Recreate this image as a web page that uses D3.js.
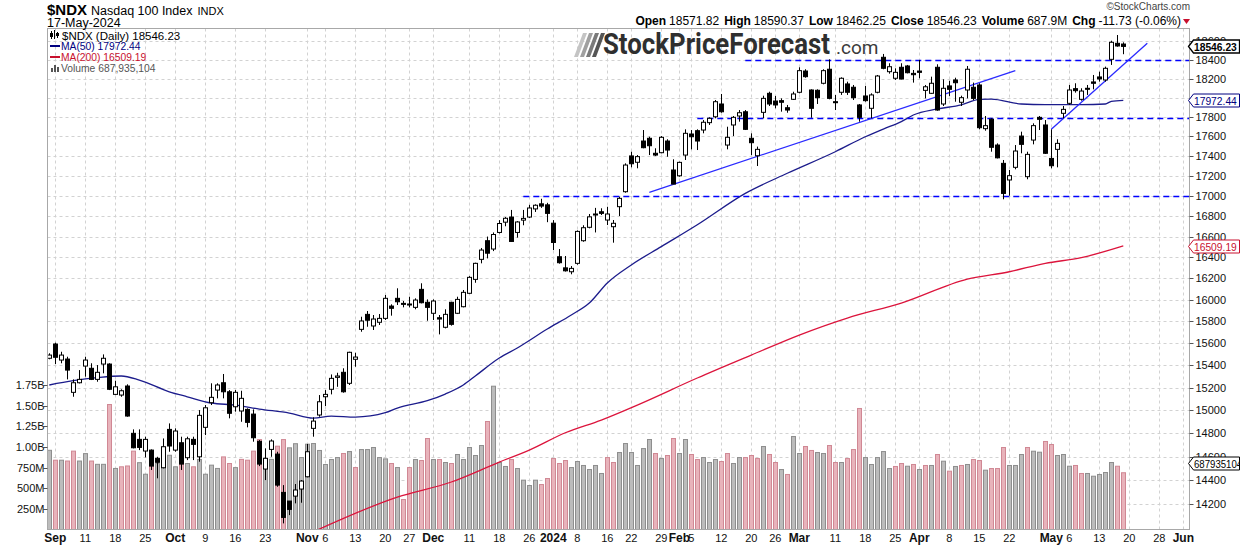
<!DOCTYPE html>
<html>
<head>
<meta charset="utf-8">
<script src="https://cdn.jsdelivr.net/npm/d3@7"></script>
<style>
body { margin: 0; background: #fff; }
svg { display: block; font-family: "Liberation Sans", Arial, sans-serif; }
</style>
</head>
<body>
<svg id="chart" width="1240" height="546"></svg>
<script>
// trading days on the axis (last ones are empty future days)
var dates = [
"2023-08-31","2023-09-01","2023-09-05","2023-09-06","2023-09-07","2023-09-08",
"2023-09-11","2023-09-12","2023-09-13","2023-09-14","2023-09-15",
"2023-09-18","2023-09-19","2023-09-20","2023-09-21","2023-09-22",
"2023-09-25","2023-09-26","2023-09-27","2023-09-28","2023-09-29",
"2023-10-02","2023-10-03","2023-10-04","2023-10-05","2023-10-06",
"2023-10-09","2023-10-10","2023-10-11","2023-10-12","2023-10-13",
"2023-10-16","2023-10-17","2023-10-18","2023-10-19","2023-10-20",
"2023-10-23","2023-10-24","2023-10-25","2023-10-26","2023-10-27",
"2023-10-30","2023-10-31","2023-11-01","2023-11-02","2023-11-03",
"2023-11-06","2023-11-07","2023-11-08","2023-11-09","2023-11-10",
"2023-11-13","2023-11-14","2023-11-15","2023-11-16","2023-11-17",
"2023-11-20","2023-11-21","2023-11-22","2023-11-24",
"2023-11-27","2023-11-28","2023-11-29","2023-11-30","2023-12-01",
"2023-12-04","2023-12-05","2023-12-06","2023-12-07","2023-12-08",
"2023-12-11","2023-12-12","2023-12-13","2023-12-14","2023-12-15",
"2023-12-18","2023-12-19","2023-12-20","2023-12-21","2023-12-22",
"2023-12-26","2023-12-27","2023-12-28","2023-12-29",
"2024-01-02","2024-01-03","2024-01-04","2024-01-05",
"2024-01-08","2024-01-09","2024-01-10","2024-01-11","2024-01-12",
"2024-01-16","2024-01-17","2024-01-18","2024-01-19",
"2024-01-22","2024-01-23","2024-01-24","2024-01-25","2024-01-26",
"2024-01-29","2024-01-30","2024-01-31","2024-02-01","2024-02-02",
"2024-02-05","2024-02-06","2024-02-07","2024-02-08","2024-02-09",
"2024-02-12","2024-02-13","2024-02-14","2024-02-15","2024-02-16",
"2024-02-20","2024-02-21","2024-02-22","2024-02-23",
"2024-02-26","2024-02-27","2024-02-28","2024-02-29","2024-03-01",
"2024-03-04","2024-03-05","2024-03-06","2024-03-07","2024-03-08",
"2024-03-11","2024-03-12","2024-03-13","2024-03-14","2024-03-15",
"2024-03-18","2024-03-19","2024-03-20","2024-03-21","2024-03-22",
"2024-03-25","2024-03-26","2024-03-27","2024-03-28",
"2024-04-01","2024-04-02","2024-04-03","2024-04-04","2024-04-05",
"2024-04-08","2024-04-09","2024-04-10","2024-04-11","2024-04-12",
"2024-04-15","2024-04-16","2024-04-17","2024-04-18","2024-04-19",
"2024-04-22","2024-04-23","2024-04-24","2024-04-25","2024-04-26",
"2024-04-29","2024-04-30","2024-05-01","2024-05-02","2024-05-03",
"2024-05-06","2024-05-07","2024-05-08","2024-05-09","2024-05-10",
"2024-05-13","2024-05-14","2024-05-15","2024-05-16","2024-05-17",
"2024-05-20","2024-05-21","2024-05-22","2024-05-23","2024-05-24",
"2024-05-28","2024-05-29","2024-05-30","2024-05-31",
"2024-06-03","2024-06-04"];

var opens = [15463,15592,15447,15456,15159,15244,15393,15373,15274,15411,15411,15141,15135,15215,14801,14749,14649,14657,14587,14507,
14835,14657,14720,14592,14749,14600,14853,15068,15179,15244,15164,15032,14995,15009,14968,14732,14496,14663,14623,14300,
14228,14269,14328,14431,14844,14960,15120,15186,15292,15337,15239,15454,15726,15864,15757,15791,15827,15941,16013,15966,
15960,15929,16097,15976,15874,15833,15745,15976,15874,15935,16060,16191,16381,16560,16480,16640,16740,16790,16640,16760,
16790,16870,16920,16910,16730,16406,16300,16263,16343,16560,16690,16820,16842,16761,16696,16892,17040,17399,17335,17551,
17579,17426,17432,17551,17257,17199,17408,17623,17657,17664,17740,17801,17934,17510,17716,17809,17853,17579,17401,17847,
18046,17965,17969,17895,17983,18057,18282,18081,18078,18152,18301,17958,18057,18145,18110,17924,18018,17889,18057,18429,
18275,18205,18322,18336,18257,18282,18077,18046,18322,17934,18124,18187,17952,18081,18110,18134,17678,17775,17510,17324,
17157,17284,17602,17190,17561,17795,17716,17374,17466,17837,17941,18095,17983,18099,18166,18219,18187,18407,18580,18571.82];
var highs = [15508,15604,15522,15477,15274,15357,15477,15418,15402,15498,15418,15262,15186,15230,14835,14835,14772,14663,14600,14757,
14887,14844,14772,14772,14772,15003,15047,15239,15239,15322,15179,15179,15173,15018,15009,14743,14672,14749,14643,14361,
14228,14370,14403,14709,14940,15135,15179,15318,15333,15373,15522,15513,15842,15895,15858,15867,16044,15957,16107,15988,
16028,16013,16154,16003,16003,15858,15911,15981,16028,16091,16222,16349,16490,16600,16640,16760,16790,16860,16750,16860,
16910,16915,16970,16930,16760,16480,16413,16317,16660,16710,16820,16880,16876,16891,16761,16990,17324,17442,17408,17664,
17595,17477,17602,17569,17365,17341,17671,17664,17671,17767,17795,17976,18039,17698,17809,17871,17871,17630,17494,18021,
18063,18018,17993,17924,18063,18322,18301,18088,18088,18301,18407,18029,18215,18169,18134,17934,18124,18046,18240,18465,
18365,18311,18365,18347,18293,18400,18134,18222,18354,18194,18179,18211,18021,18336,18159,18152,17809,17785,17527,17358,
17257,17510,17647,17442,17733,17809,17767,17671,17569,17913,18134,18152,18099,18134,18240,18275,18329,18608,18670,18590.37];
var lows = [15454,15411,15418,15274,15120,15238,15298,15268,15253,15328,15179,15135,15120,14945,14672,14657,14595,14488,14418,14502,
14643,14643,14488,14572,14572,14558,14786,15047,15106,15106,14931,14989,14901,14853,14729,14521,14403,14600,14347,14044,
14112,14209,14214,14426,14772,14945,15038,15141,15208,15156,15224,15387,15704,15750,15720,15766,15812,15852,15951,15929,
15929,15911,15966,15805,15812,15680,15735,15760,15867,15929,16053,16159,16343,16390,16460,16630,16700,16550,16590,16710,
16780,16840,16880,16740,16470,16340,16265,16239,16330,16550,16680,16640,16810,16712,16541,16800,17030,17284,17274,17477,
17408,17398,17426,17391,17116,17190,17358,17466,17459,17630,17716,17785,17843,17466,17602,17750,17664,17408,17297,17785,
17913,17889,17854,17843,17976,18046,18211,17791,17934,18141,17983,17871,18029,18029,17976,17750,17958,17785,18046,18301,
18254,18187,18194,18257,18159,18205,17993,18039,17864,17913,18018,17958,17913,17993,17976,17671,17657,17442,17374,16965,
17000,17264,17426,17164,17517,17664,17419,17274,17284,17785,17924,18053,17969,18029,18088,18169,18169,18347,18543,18462.25];
var closes = [15492,15472,15492,15357,15244,15274,15447,15274,15337,15463,15186,15208,15173,14951,14677,14680,14749,14521,14553,14686,
14692,14821,14538,14754,14706,14957,15023,15115,15224,15164,14975,15159,15106,14896,14763,14538,14587,14735,14361,14093,
14159,14320,14395,14643,14907,15076,15141,15283,15304,15164,15517,15474,15803,15810,15821,15827,16013,15920,15981,15960,
15951,15997,15972,15929,15988,15821,15864,15772,16003,16069,16210,16343,16470,16440,16620,16727,16778,16553,16742,16777,
16879,16906,16898,16826,16543,16349,16272,16295,16650,16686,16792,16810,16826,16820,16729,16974,17307,17320,17392,17483,
17503,17408,17589,17459,17116,17334,17630,17595,17551,17744,17785,17958,17853,17589,17795,17843,17671,17534,17466,17993,
17934,17924,17952,17871,18039,18286,18222,17889,18000,18286,17993,17952,18205,18057,18000,17795,17969,18029,18229,18311,
18328,18268,18197,18264,18243,18268,18115,18152,17871,18099,18088,18158,18000,18301,17993,17688,17709,17487,17380,17023,
17200,17449,17517,17415,17709,17775,17426,17300,17527,17878,18081,18074,18070,18092,18152,18198,18311,18591,18551,18546.23];
// volume in millions of shares
var volumes = [960,840,840,830,950,830,920,830,790,790,1515,740,760,770,950,810,670,880,800,850,
900,760,1010,800,760,850,670,780,740,880,800,750,850,840,950,1090,850,850,1010,1090,
990,1040,872,1034,1042,958,788,848,872,921,945,751,969,969,994,872,856,800,751,363,
751,848,836,1103,848,848,812,800,909,848,994,897,1018,1309,1737,812,764,848,739,598,
533,598,545,618,860,800,836,751,824,776,727,776,679,872,812,933,1042,933,776,981,
1091,921,860,897,1103,921,1091,909,848,872,812,848,824,921,800,872,872,897,860,1006,
909,812,727,667,1127,921,1006,958,933,921,1018,812,812,860,969,1467,872,788,872,945,
739,764,800,767,788,727,776,776,909,828,707,764,776,788,848,836,719,739,739,994,
776,776,909,994,949,937,1067,1030,897,909,767,776,679,679,646,667,691,812,767,688];

var ma50Dates = ["2023-08-31","2023-09-07","2023-09-13","2023-09-19","2023-09-22","2023-09-29","2023-10-04","2023-10-10",
"2023-10-16","2023-10-20","2023-10-27","2023-11-02","2023-11-07","2023-11-13","2023-11-20","2023-11-22","2023-11-30",
"2023-12-05","2023-12-08","2023-12-12","2023-12-18","2023-12-21","2023-12-29","2024-01-05","2024-01-10","2024-01-16",
"2024-01-22","2024-01-29","2024-02-06","2024-02-16","2024-02-28","2024-03-11","2024-03-18","2024-03-21","2024-03-26",
"2024-03-28","2024-04-04","2024-04-10","2024-04-15","2024-04-17","2024-04-24","2024-04-30","2024-05-08","2024-05-14",
"2024-05-15","2024-05-17"];
var ma50Values = [15224,15262,15289,15304,15268,15164,15120,15065,15047,15012,14977,14933,14951,14942,14980,15021,15085,
15144,15224,15304,15465,15556,15729,15858,15969,16157,16328,16503,16715,17024,17224,17442,17595,17674,17750,
17819,17882,17924,17983,17986,17934,17927,17927,17934,17962,17972.44];

var ma200Dates = ["2023-11-02","2023-11-22","2023-12-06","2023-12-18","2023-12-26","2024-01-04","2024-01-12","2024-01-23",
"2024-02-06","2024-02-20","2024-03-01","2024-03-13","2024-03-26","2024-04-11","2024-04-22","2024-04-30","2024-05-08","2024-05-17"];
var ma200Values = [13975,14261,14387,14555,14657,14806,14916,15047,15286,15492,15674,15830,15969,16194,16263,16343,16397,16509.19];

// hand-drawn annotations: [start date, price] -> [end date, price]
var trendLines = [
  [["2024-01-25", 17034], ["2024-04-23", 18286]],
  [["2024-05-01", 17671], ["2024-05-23", 18580]]
];
var levelDates = ["2024-02-16", "2024-02-06", "2023-12-22"];
var levelValues = [18400, 17785, 17000];

var priceDomain = [13994, 18741];
var volumeDomain = [0, 6073];
var priceTicks = [14200,14400,14600,14800,15000,15200,15400,15600,15800,16000,16200,16400,16600,16800,17000,
17200,17400,17600,17800,18000,18200,18400,18600];
var volumeTicks = [250, 500, 750, 1000, 1250, 1500, 1750];
var volumeTickLabels = ["250M", "500M", "750M", "1.00B", "1.25B", "1.50B", "1.75B"];

var dateTicks = ["2023-09-01","2023-09-11","2023-09-18","2023-09-25","2023-10-02","2023-10-09","2023-10-16","2023-10-23",
"2023-11-01","2023-11-06","2023-11-13","2023-11-20","2023-11-27","2023-12-01","2023-12-11","2023-12-18","2023-12-26",
"2024-01-02","2024-01-08","2024-01-16","2024-01-22","2024-01-29","2024-02-01","2024-02-05","2024-02-12","2024-02-20",
"2024-02-26","2024-03-01","2024-03-11","2024-03-18","2024-03-25","2024-04-01","2024-04-08","2024-04-15","2024-04-22",
"2024-05-01","2024-05-06","2024-05-13","2024-05-20","2024-05-28","2024-06-03"];
var dateTickLabels = ["Sep","11","18","25","Oct","9","16","23","Nov","6","13","20","27","Dec","11","18","26",
"2024","8","16","22","29","Feb","5","12","20","26","Mar","11","18","25","Apr","8","15","22",
"May","6","13","20","28","Jun"];

var lastVolumeText = "687935104";

// ---------------------------------------------------------------
var svg = d3.select('#chart');
var plot = {left: 47.5, right: 1189.5, top: 28.5, bottom: 529.5};

var x = d3.scalePoint().domain(dates).range([49.3, 1189.3]);
var y = d3.scaleLog().domain(priceDomain).range([plot.bottom, plot.top]);
var yVol = d3.scaleLinear().domain(volumeDomain).range([plot.bottom, plot.top]);

var candles = opens.map(function(o, i) {
	return {date: dates[i], o: o, h: highs[i], l: lows[i], c: closes[i], v: volumes[i],
		down: i > 0 && closes[i] < closes[i-1]};
});
var last = candles[candles.length-1];
var px = function(d) { return Math.round(x(d)) + 0.5; };
var py = function(v) { return Math.round(y(v)) + 0.5; };

svg.append('rect').attr('width', 1240).attr('height', 546).attr('fill', '#ffffff');

svg.append('defs').append('clipPath').attr('id', 'clip').append('rect')
	.attr('x', plot.left).attr('y', plot.top)
	.attr('width', plot.right - plot.left).attr('height', plot.bottom - plot.top);

// grid
var grid = svg.append('g').attr('stroke', '#d2d2d2').attr('stroke-dasharray', '3,3').attr('stroke-width', 1);
grid.selectAll('line.h').data(priceTicks).enter().append('line')
	.attr('x1', plot.left).attr('x2', plot.right)
	.attr('y1', py).attr('y2', py);
grid.selectAll('line.v').data(dateTicks).enter().append('line')
	.attr('y1', plot.top).attr('y2', plot.bottom)
	.attr('x1', px).attr('x2', px);

// watermark logo
var logo = svg.append('g');
['#c4c4c4', '#a0a0a0', '#7a7a7a', '#555555'].forEach(function(c, k) {
	logo.append('path')
		.attr('d', 'M' + (574 + k*6) + ',57 L' + (583 + k*6) + ',33 L' + (587 + k*6) + ',33 L' + (578 + k*6) + ',57 Z')
		.attr('fill', c);
});
logo.append('text').attr('x', 603).attr('y', 54)
	.attr('font-family', 'Roboto, "Open Sans", sans-serif').attr('font-weight', 'bold')
	.attr('font-size', 29).attr('fill', '#2f2f2f')
	.attr('textLength', 227).attr('lengthAdjust', 'spacingAndGlyphs')
	.text('StockPriceForecast');
logo.append('text').attr('x', 836).attr('y', 54)
	.attr('font-family', 'Roboto, "Open Sans", sans-serif')
	.attr('font-size', 19).attr('fill', '#3a3a3a')
	.text('.com');

var inner = svg.append('g').attr('clip-path', 'url(#clip)');

// volume bars
inner.selectAll('rect.vol').data(candles).enter().append('rect')
	.attr('class', 'vol')
	.attr('x', function(d) { return Math.round(x(d.date)) - 1.5; })
	.attr('width', 4)
	.attr('y', function(d) { return yVol(d.v); })
	.attr('height', function(d) { return yVol(0) - yVol(d.v); })
	.attr('fill', function(d) { return d.down ? '#e8b3bb' : '#bcbcbc'; })
	.attr('stroke', function(d) { return d.down ? '#d08894' : '#8e8e8e'; })
	.attr('stroke-width', 1);

// moving averages
var maLine = d3.line()
	.x(function(d) { return x(d[0]); })
	.y(function(d) { return y(d[1]); })
	.curve(d3.curveMonotoneX);
inner.append('path').datum(d3.zip(ma200Dates, ma200Values))
	.attr('d', maLine).attr('fill', 'none').attr('stroke', '#dc143c').attr('stroke-width', 1.3);
inner.append('path').datum(d3.zip(ma50Dates, ma50Values))
	.attr('d', maLine).attr('fill', 'none').attr('stroke', '#1c1c8c').attr('stroke-width', 1.3);

// horizontal levels and trend lines
inner.selectAll('line.level').data(d3.zip(levelDates, levelValues)).enter().append('line')
	.attr('class', 'level')
	.attr('x1', function(d) { return x(d[0]); })
	.attr('x2', plot.right + 4)
	.attr('y1', function(d) { return py(d[1]); })
	.attr('y2', function(d) { return py(d[1]); })
	.attr('stroke', '#0000ff').attr('stroke-width', 1.3).attr('stroke-dasharray', '6,4');
inner.selectAll('line.trend').data(trendLines).enter().append('line')
	.attr('class', 'trend')
	.attr('x1', function(d) { return x(d[0][0]); })
	.attr('y1', function(d) { return y(d[0][1]); })
	.attr('x2', function(d) { return x(d[1][0]); })
	.attr('y2', function(d) { return y(d[1][1]); })
	.attr('stroke', '#2a2aff').attr('stroke-width', 1.3);

// candles
var cg = inner.selectAll('g.candle').data(candles).enter().append('g').attr('class', 'candle');
cg.append('line')
	.attr('x1', function(d) { return px(d.date); }).attr('x2', function(d) { return px(d.date); })
	.attr('y1', function(d) { return y(d.h); }).attr('y2', function(d) { return y(d.l); })
	.attr('stroke', '#000').attr('stroke-width', 1);
cg.append('rect')
	.attr('x', function(d) { return px(d.date) - 2; })
	.attr('width', 4)
	.attr('y', function(d) { return Math.min(y(d.o), y(d.c)); })
	.attr('height', function(d) { return Math.max(1, Math.abs(y(d.o) - y(d.c))); })
	.attr('fill', function(d) { return d.c < d.o ? '#000' : '#fff'; })
	.attr('stroke', '#000').attr('stroke-width', 1);

// frame
svg.append('rect').attr('x', plot.left).attr('y', plot.top)
	.attr('width', plot.right - plot.left).attr('height', plot.bottom - plot.top)
	.attr('fill', 'none').attr('stroke', '#a8a8a8').attr('stroke-width', 1);

// right price axis
var ra = svg.append('g').attr('font-size', 11).attr('fill', '#111');
ra.selectAll('line').data(priceTicks).enter().append('line')
	.attr('x1', plot.right).attr('x2', plot.right + 4)
	.attr('y1', py).attr('y2', py)
	.attr('stroke', '#555');
ra.selectAll('text').data(priceTicks).enter().append('text')
	.attr('x', plot.right + 6).attr('y', function(d) { return y(d) + 4; })
	.text(function(d) { return d; });

// left volume axis
var la = svg.append('g').attr('font-size', 11).attr('fill', '#111');
la.selectAll('line').data(volumeTicks).enter().append('line')
	.attr('x1', plot.left - 4).attr('x2', plot.left)
	.attr('y1', function(d) { return Math.round(yVol(d)) + 0.5; })
	.attr('y2', function(d) { return Math.round(yVol(d)) + 0.5; })
	.attr('stroke', '#555');
la.selectAll('text').data(volumeTicks).enter().append('text')
	.attr('x', plot.left - 3).attr('y', function(d) { return yVol(d) + 4; })
	.attr('text-anchor', 'end')
	.text(function(d, i) { return volumeTickLabels[i]; });

// bottom date axis
var isMonth = function(s) { return /^[A-Z]/.test(s) || s.length === 4; };
svg.append('g').selectAll('text').data(dateTicks).enter().append('text')
	.attr('x', function(d) { return x(d); })
	.attr('y', 542)
	.attr('text-anchor', 'middle')
	.attr('font-size', function(d, i) { return isMonth(dateTickLabels[i]) ? 12 : 11; })
	.attr('font-weight', function(d, i) { return isMonth(dateTickLabels[i]) ? 'bold' : 'normal'; })
	.attr('fill', '#111')
	.text(function(d, i) { return dateTickLabels[i]; });

// value tags at right edge
function tag(cy, label, color, bold) {
	var g = svg.append('g');
	var t = plot.right - 1;
	g.append('path')
		.attr('d', 'M' + t + ',' + cy + ' L' + (t + 5) + ',' + (cy - 6.5) + ' L1239.5,' + (cy - 6.5) +
			' L1239.5,' + (cy + 6.5) + ' L' + (t + 5) + ',' + (cy + 6.5) + ' Z')
		.attr('fill', '#fff').attr('stroke', color).attr('stroke-width', bold ? 1.3 : 1);
	g.append('text').attr('x', t + 5.5).attr('y', cy + 4)
		.attr('font-size', 11).attr('font-weight', bold ? 'bold' : 'normal')
		.attr('textLength', label.length * 5.35).attr('lengthAdjust', 'spacingAndGlyphs')
		.attr('fill', color).text(label);
}
tag(py(last.c), last.c.toFixed(2), '#000', true);
tag(py(ma50Values[ma50Values.length-1]), ma50Values[ma50Values.length-1].toFixed(2), '#000080', false);
tag(py(ma200Values[ma200Values.length-1]), ma200Values[ma200Values.length-1].toFixed(2), '#c8102e', false);
tag(Math.round(yVol(last.v)) - 9.5, lastVolumeText, '#000', false);

// legend inside the plot
var lg = svg.append('g');
lg.append('path').attr('d', 'M51.5,31 v8 M54.5,30 v9 M57.5,32 v6').attr('stroke', '#000').attr('stroke-width', 1);
lg.append('rect').attr('x', 50).attr('y', 33).attr('width', 3).attr('height', 4).attr('fill', '#000');
lg.append('rect').attr('x', 56).attr('y', 33).attr('width', 3).attr('height', 3).attr('fill', '#000');
lg.append('text').attr('x', 62).attr('y', 39.5).attr('font-size', 11.5).attr('fill', '#000').text('$NDX (Daily) ' + last.c.toFixed(2));
lg.append('line').attr('x1', 50).attr('x2', 60).attr('y1', 46).attr('y2', 46).attr('stroke', '#000080').attr('stroke-width', 2);
lg.append('text').attr('x', 61).attr('y', 50).attr('font-size', 10.3).attr('fill', '#000080').text('MA(50) ' + ma50Values[ma50Values.length-1].toFixed(2));
lg.append('line').attr('x1', 50).attr('x2', 60).attr('y1', 57).attr('y2', 57).attr('stroke', '#c8102e').attr('stroke-width', 2);
lg.append('text').attr('x', 61).attr('y', 61).attr('font-size', 10.3).attr('fill', '#c8102e').text('MA(200) ' + ma200Values[ma200Values.length-1].toFixed(2));
lg.append('path').attr('d', 'M51,72 v-4 h2 v4 M54,72 v-7 h2 v7 M57,72 v-5 h2 v5').attr('fill', '#555');
lg.append('text').attr('x', 61).attr('y', 72).attr('font-size', 10.3).attr('fill', '#555').text('Volume ' + d3.format(',')(+lastVolumeText));

// header
var hd = svg.append('g').attr('fill', '#000');
var h1 = hd.append('text').attr('x', 47).attr('y', 15);
h1.append('tspan').attr('font-weight', 'bold').attr('font-size', 15).text('$NDX');
h1.append('tspan').attr('font-size', 12.5).attr('dx', 4).text('Nasdaq 100 Index');
h1.append('tspan').attr('font-size', 11).attr('dx', 5).text('INDX');
hd.append('text').attr('x', 47).attr('y', 27).attr('font-size', 12.5).text('17-May-2024');

svg.append('text').attr('x', 1190).attr('y', 10).attr('text-anchor', 'end')
	.attr('font-size', 10).attr('fill', '#444').text('\u00A9StockCharts.com');

var stats = svg.append('text').attr('x', 1181).attr('y', 25).attr('text-anchor', 'end').attr('font-size', 12).attr('fill', '#000');
[['Open', last.o.toFixed(2)], ['High', last.h.toFixed(2)], ['Low', last.l.toFixed(2)], ['Close', last.c.toFixed(2)],
 ['Volume', '687.9M'], ['Chg', '-11.73 (-0.06%)']].forEach(function(p, i) {
	stats.append('tspan').attr('font-weight', 'bold').attr('dx', i ? 5 : 0).text(p[0]);
	stats.append('tspan').attr('dx', 3).text(p[1]);
});
svg.append('path').attr('d', 'M1183,19 L1190,19 L1186.5,24 Z').attr('fill', '#c8102e');
</script>
</body>
</html>
